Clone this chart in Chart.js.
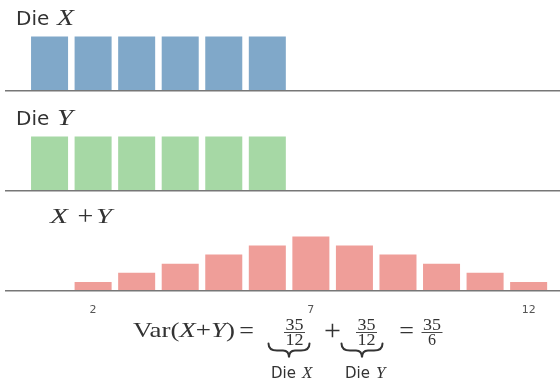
<!DOCTYPE html>
<html>
<head>
<meta charset="utf-8">
<script src="https://cdn.jsdelivr.net/npm/chart.js@4/dist/chart.umd.min.js"></script>
<style>
html,body{margin:0;padding:0;background:#fff;}
#wrap{position:relative;width:560px;height:381px;overflow:hidden;background:#fff;}
.panel{position:absolute;left:0;width:560px;}
#ann{position:absolute;left:0;top:0;pointer-events:none;}
</style>
</head>
<body>
<div id="wrap">
  <div class="panel" style="top:0;height:100px"><canvas id="c1"></canvas></div>
  <div class="panel" style="top:100px;height:100px"><canvas id="c2"></canvas></div>
  <div class="panel" style="top:200px;height:130px"><canvas id="c3"></canvas></div>
  <svg id="ann" width="560" height="381" xmlns="http://www.w3.org/2000/svg">
    <g fill="#333">
      <text x="16" y="25" font-family="DejaVu Sans" font-size="20">Die</text>
      <text x="57" y="25" font-family="Liberation Serif" font-style="italic" font-size="23" textLength="17" lengthAdjust="spacingAndGlyphs">X</text>
      <text x="16" y="125" font-family="DejaVu Sans" font-size="20">Die</text>
      <text x="57" y="125" font-family="Liberation Serif" font-style="italic" font-size="23" textLength="16" lengthAdjust="spacingAndGlyphs">Y</text>

      <text x="50" y="223" font-family="Liberation Serif" font-style="italic" font-size="21" textLength="18" lengthAdjust="spacingAndGlyphs">X</text>
      <text x="85.5" y="224.5" font-family="Liberation Serif" font-size="28" text-anchor="middle">+</text>
      <text x="96" y="223" font-family="Liberation Serif" font-style="italic" font-size="21" textLength="16" lengthAdjust="spacingAndGlyphs">Y</text>

      <text x="133" y="336.5" font-family="Liberation Serif" font-size="21" textLength="102" lengthAdjust="spacingAndGlyphs">Var(<tspan font-style="italic">X</tspan>+<tspan font-style="italic">Y</tspan>)</text>
      <text x="246.5" y="338.5" font-family="Liberation Serif" font-size="26" text-anchor="middle">=</text>

      <text x="294.5" y="330" font-family="Liberation Serif" font-size="16" text-anchor="middle" textLength="18" lengthAdjust="spacingAndGlyphs">35</text>
      <text x="294.5" y="344.5" font-family="Liberation Serif" font-size="16" text-anchor="middle" textLength="18" lengthAdjust="spacingAndGlyphs">12</text>
      <text x="332.5" y="340" font-family="Liberation Serif" font-size="30" text-anchor="middle">+</text>
      <text x="366.5" y="330" font-family="Liberation Serif" font-size="16" text-anchor="middle" textLength="18" lengthAdjust="spacingAndGlyphs">35</text>
      <text x="366.5" y="344.5" font-family="Liberation Serif" font-size="16" text-anchor="middle" textLength="18" lengthAdjust="spacingAndGlyphs">12</text>
      <text x="406.5" y="338.5" font-family="Liberation Serif" font-size="26" text-anchor="middle">=</text>
      <text x="432" y="330" font-family="Liberation Serif" font-size="16" text-anchor="middle" textLength="18" lengthAdjust="spacingAndGlyphs">35</text>
      <text x="432" y="344.5" font-family="Liberation Serif" font-size="16" text-anchor="middle">6</text>

      <text x="271" y="378" font-family="DejaVu Sans" font-size="15">Die</text>
      <text x="302" y="378" font-family="Liberation Serif" font-style="italic" font-size="17">X</text>
      <text x="345" y="378" font-family="DejaVu Sans" font-size="15">Die</text>
      <text x="376" y="378" font-family="Liberation Serif" font-style="italic" font-size="17">Y</text>
    </g>
    <g stroke="#333" stroke-width="0.9">
      <line x1="284" y1="332.5" x2="305" y2="332.5"/>
      <line x1="356" y1="332.5" x2="377" y2="332.5"/>
      <line x1="421.5" y1="332.5" x2="442.5" y2="332.5"/>
    </g>
    <g fill="none" stroke="#333" stroke-width="2" stroke-linecap="round">
      <path d="M268.5,343.5 C268.5,349 272,350.5 277,350.5 L283,350.5 C287,350.5 289,352.5 289,357.5 C289,352.5 291,350.5 295,350.5 L301,350.5 C306,350.5 309.5,349 309.5,343.5"/>
      <path d="M341.5,343.5 C341.5,349 345,350.5 350,350.5 L356,350.5 C360,350.5 362,352.5 362,357.5 C362,352.5 364,350.5 368,350.5 L374,350.5 C379,350.5 382.5,349 382.5,343.5"/>
    </g>
  </svg>
</div>
<script>
// Data (probabilities in 36ths)
const dieFaces   = [1, 2, 3, 4, 5, 6];
const dieXCounts = [6, 6, 6, 6, 6, 6];
const dieYCounts = [6, 6, 6, 6, 6, 6];
const sumValues  = [2, 3, 4, 5, 6, 7, 8, 9, 10, 11, 12];
const sumCounts  = [1, 2, 3, 4, 5, 6, 5, 4, 3, 2, 1];
const sumTicks   = [2, 7, 12];

const colors = { x: '#80a8c9', y: '#a6d8a5', sum: '#ef9e99' };

function makeChart(id, xs, ys, color, ticks, axisH) {
  return new Chart(document.getElementById(id), {
    type: 'bar',
    data: {
      datasets: [{
        data: xs.map((x, i) => ({ x: x, y: ys[i] })),
        backgroundColor: color,
        borderWidth: 0,
        barPercentage: 0.85,
        categoryPercentage: 1.0
      }]
    },
    options: {
      responsive: true,
      maintainAspectRatio: false,
      animation: false,
      events: [],
      layout: { padding: { left: 6, right: 0, top: 0, bottom: 0 } },
      plugins: { legend: { display: false }, tooltip: { enabled: false }, title: { display: false } },
      scales: {
        x: {
          type: 'linear',
          min: 0,
          max: 12.72,
          offset: false,
          grid: { display: false, drawTicks: false },
          border: { display: true, color: '#777', width: 1.5, z: 1 },
          ticks: {
            display: ticks.length > 0,
            padding: 13,
            color: '#555',
            font: { family: 'DejaVu Sans', size: 11 },
            maxRotation: 0,
            autoSkip: false
          },
          afterBuildTicks: s => { s.ticks = ticks.map(v => ({ value: v })); },
          afterFit: s => { s.height = axisH; }
        },
        y: { display: false, min: 0, max: 10 }
      }
    }
  });
}

makeChart('c1', dieFaces, dieXCounts, colors.x, [], 9);
makeChart('c2', dieFaces, dieYCounts, colors.y, [], 9);
makeChart('c3', sumValues, sumCounts, colors.sum, sumTicks, 39);
</script>
</body>
</html>
